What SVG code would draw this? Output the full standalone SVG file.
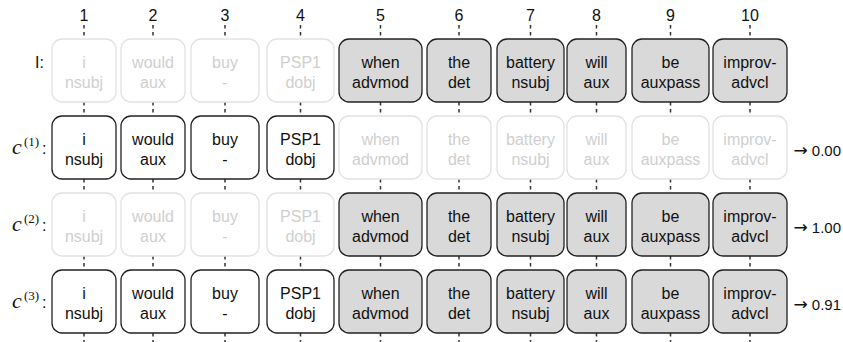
<svg xmlns="http://www.w3.org/2000/svg" width="843" height="342" viewBox="0 0 843 342">
<style>
text{font-family:"Liberation Sans",Arial,sans-serif;font-size:16px;fill:#111}
.t{text-anchor:middle}
rect{rx:10;ry:10}
.w rect{fill:#fff;stroke:#222;stroke-width:1.3}
.g rect{fill:#d9d9d9;stroke:#222;stroke-width:1.3}
.f rect{fill:#fff;stroke:#e2e2e2;stroke-width:1.3}
.f text{fill:#cfcfcf}
.tick{stroke:#333;stroke-width:1.5;stroke-dasharray:3.5 3.5}
.m{font-family:"Liberation Serif","DejaVu Serif",serif;font-style:italic;font-size:22px}
.s{font-family:"Liberation Serif","DejaVu Serif",serif;font-size:13px}
.sc{font-size:15px;text-anchor:end}
.ar{font-family:"DejaVu Sans",sans-serif;font-size:17px}
</style>
<g id="connectors">
<line class="tick" x1="84" y1="25" x2="84" y2="342"/>
<line class="tick" x1="153" y1="25" x2="153" y2="342"/>
<line class="tick" x1="225" y1="25" x2="225" y2="342"/>
<line class="tick" x1="300.5" y1="25" x2="300.5" y2="342"/>
<line class="tick" x1="380.5" y1="25" x2="380.5" y2="342"/>
<line class="tick" x1="459" y1="25" x2="459" y2="342"/>
<line class="tick" x1="530.5" y1="25" x2="530.5" y2="342"/>
<line class="tick" x1="596.5" y1="25" x2="596.5" y2="342"/>
<line class="tick" x1="670.5" y1="25" x2="670.5" y2="342"/>
<line class="tick" x1="750" y1="25" x2="750" y2="342"/>
</g>
<g id="headers">
<text class="t" x="84" y="21">1</text>
<text class="t" x="153" y="21">2</text>
<text class="t" x="225" y="21">3</text>
<text class="t" x="300.5" y="21">4</text>
<text class="t" x="380.5" y="21">5</text>
<text class="t" x="459" y="21">6</text>
<text class="t" x="530.5" y="21">7</text>
<text class="t" x="596.5" y="21">8</text>
<text class="t" x="670.5" y="21">9</text>
<text class="t" x="750" y="21">10</text>
</g>
<g id="row-labels">
<text x="35" y="68">I:</text>
<text class="m" x="12" y="154">c</text><text class="s" x="24" y="146">(1)</text><text x="42" y="154">:</text>
<text class="m" x="12" y="231">c</text><text class="s" x="24" y="223">(2)</text><text x="42" y="231">:</text>
<text class="m" x="12" y="308">c</text><text class="s" x="24" y="300">(3)</text><text x="42" y="308">:</text>
</g>
<g id="scores">
<text class="sc" x="841" y="156"><tspan class="ar">→</tspan> 0.00</text>
<text class="sc" x="841" y="233"><tspan class="ar">→</tspan> 1.00</text>
<text class="sc" x="841" y="310"><tspan class="ar">→</tspan> 0.91</text>
</g>
<!-- Row I -->
<g id="r0c1" class="f"><rect x="52" y="39" width="64" height="63"/><text class="t" x="84" y="68">i</text><text class="t" x="84" y="88">nsubj</text></g>
<g id="r0c2" class="f"><rect x="121" y="39" width="64" height="63"/><text class="t" x="153" y="68">would</text><text class="t" x="153" y="88">aux</text></g>
<g id="r0c3" class="f"><rect x="191" y="39" width="68" height="63"/><text class="t" x="225" y="68">buy</text><text class="t" x="225" y="88">-</text></g>
<g id="r0c4" class="f"><rect x="267" y="39" width="67" height="63"/><text class="t" x="300.5" y="68">PSP1</text><text class="t" x="300.5" y="88">dobj</text></g>
<g id="r0c5" class="g"><rect x="339" y="39" width="83" height="63"/><text class="t" x="380.5" y="68">when</text><text class="t" x="380.5" y="88">advmod</text></g>
<g id="r0c6" class="g"><rect x="427" y="39" width="64" height="63"/><text class="t" x="459" y="68">the</text><text class="t" x="459" y="88">det</text></g>
<g id="r0c7" class="g"><rect x="497" y="39" width="67" height="63"/><text class="t" x="530.5" y="68">battery</text><text class="t" x="530.5" y="88">nsubj</text></g>
<g id="r0c8" class="g"><rect x="567" y="39" width="59" height="63"/><text class="t" x="596.5" y="68">will</text><text class="t" x="596.5" y="88">aux</text></g>
<g id="r0c9" class="g"><rect x="632" y="39" width="77" height="63"/><text class="t" x="670.5" y="68">be</text><text class="t" x="670.5" y="88">auxpass</text></g>
<g id="r0c10" class="g"><rect x="713" y="39" width="74" height="63"/><text class="t" x="750" y="68">improv-</text><text class="t" x="750" y="88">advcl</text></g>
<!-- Row c1 -->
<g id="r1c1" class="w"><rect x="52" y="116" width="64" height="63"/><text class="t" x="84" y="145">i</text><text class="t" x="84" y="165">nsubj</text></g>
<g id="r1c2" class="w"><rect x="121" y="116" width="64" height="63"/><text class="t" x="153" y="145">would</text><text class="t" x="153" y="165">aux</text></g>
<g id="r1c3" class="w"><rect x="191" y="116" width="68" height="63"/><text class="t" x="225" y="145">buy</text><text class="t" x="225" y="165">-</text></g>
<g id="r1c4" class="w"><rect x="267" y="116" width="67" height="63"/><text class="t" x="300.5" y="145">PSP1</text><text class="t" x="300.5" y="165">dobj</text></g>
<g id="r1c5" class="f"><rect x="339" y="116" width="83" height="63"/><text class="t" x="380.5" y="145">when</text><text class="t" x="380.5" y="165">advmod</text></g>
<g id="r1c6" class="f"><rect x="427" y="116" width="64" height="63"/><text class="t" x="459" y="145">the</text><text class="t" x="459" y="165">det</text></g>
<g id="r1c7" class="f"><rect x="497" y="116" width="67" height="63"/><text class="t" x="530.5" y="145">battery</text><text class="t" x="530.5" y="165">nsubj</text></g>
<g id="r1c8" class="f"><rect x="567" y="116" width="59" height="63"/><text class="t" x="596.5" y="145">will</text><text class="t" x="596.5" y="165">aux</text></g>
<g id="r1c9" class="f"><rect x="632" y="116" width="77" height="63"/><text class="t" x="670.5" y="145">be</text><text class="t" x="670.5" y="165">auxpass</text></g>
<g id="r1c10" class="f"><rect x="713" y="116" width="74" height="63"/><text class="t" x="750" y="145">improv-</text><text class="t" x="750" y="165">advcl</text></g>
<!-- Row c2 -->
<g id="r2c1" class="f"><rect x="52" y="193" width="64" height="63"/><text class="t" x="84" y="222">i</text><text class="t" x="84" y="242">nsubj</text></g>
<g id="r2c2" class="f"><rect x="121" y="193" width="64" height="63"/><text class="t" x="153" y="222">would</text><text class="t" x="153" y="242">aux</text></g>
<g id="r2c3" class="f"><rect x="191" y="193" width="68" height="63"/><text class="t" x="225" y="222">buy</text><text class="t" x="225" y="242">-</text></g>
<g id="r2c4" class="f"><rect x="267" y="193" width="67" height="63"/><text class="t" x="300.5" y="222">PSP1</text><text class="t" x="300.5" y="242">dobj</text></g>
<g id="r2c5" class="g"><rect x="339" y="193" width="83" height="63"/><text class="t" x="380.5" y="222">when</text><text class="t" x="380.5" y="242">advmod</text></g>
<g id="r2c6" class="g"><rect x="427" y="193" width="64" height="63"/><text class="t" x="459" y="222">the</text><text class="t" x="459" y="242">det</text></g>
<g id="r2c7" class="g"><rect x="497" y="193" width="67" height="63"/><text class="t" x="530.5" y="222">battery</text><text class="t" x="530.5" y="242">nsubj</text></g>
<g id="r2c8" class="g"><rect x="567" y="193" width="59" height="63"/><text class="t" x="596.5" y="222">will</text><text class="t" x="596.5" y="242">aux</text></g>
<g id="r2c9" class="g"><rect x="632" y="193" width="77" height="63"/><text class="t" x="670.5" y="222">be</text><text class="t" x="670.5" y="242">auxpass</text></g>
<g id="r2c10" class="g"><rect x="713" y="193" width="74" height="63"/><text class="t" x="750" y="222">improv-</text><text class="t" x="750" y="242">advcl</text></g>
<!-- Row c3 -->
<g id="r3c1" class="w"><rect x="52" y="270" width="64" height="63"/><text class="t" x="84" y="299">i</text><text class="t" x="84" y="319">nsubj</text></g>
<g id="r3c2" class="w"><rect x="121" y="270" width="64" height="63"/><text class="t" x="153" y="299">would</text><text class="t" x="153" y="319">aux</text></g>
<g id="r3c3" class="w"><rect x="191" y="270" width="68" height="63"/><text class="t" x="225" y="299">buy</text><text class="t" x="225" y="319">-</text></g>
<g id="r3c4" class="w"><rect x="267" y="270" width="67" height="63"/><text class="t" x="300.5" y="299">PSP1</text><text class="t" x="300.5" y="319">dobj</text></g>
<g id="r3c5" class="g"><rect x="339" y="270" width="83" height="63"/><text class="t" x="380.5" y="299">when</text><text class="t" x="380.5" y="319">advmod</text></g>
<g id="r3c6" class="g"><rect x="427" y="270" width="64" height="63"/><text class="t" x="459" y="299">the</text><text class="t" x="459" y="319">det</text></g>
<g id="r3c7" class="g"><rect x="497" y="270" width="67" height="63"/><text class="t" x="530.5" y="299">battery</text><text class="t" x="530.5" y="319">nsubj</text></g>
<g id="r3c8" class="g"><rect x="567" y="270" width="59" height="63"/><text class="t" x="596.5" y="299">will</text><text class="t" x="596.5" y="319">aux</text></g>
<g id="r3c9" class="g"><rect x="632" y="270" width="77" height="63"/><text class="t" x="670.5" y="299">be</text><text class="t" x="670.5" y="319">auxpass</text></g>
<g id="r3c10" class="g"><rect x="713" y="270" width="74" height="63"/><text class="t" x="750" y="299">improv-</text><text class="t" x="750" y="319">advcl</text></g>
</svg>
